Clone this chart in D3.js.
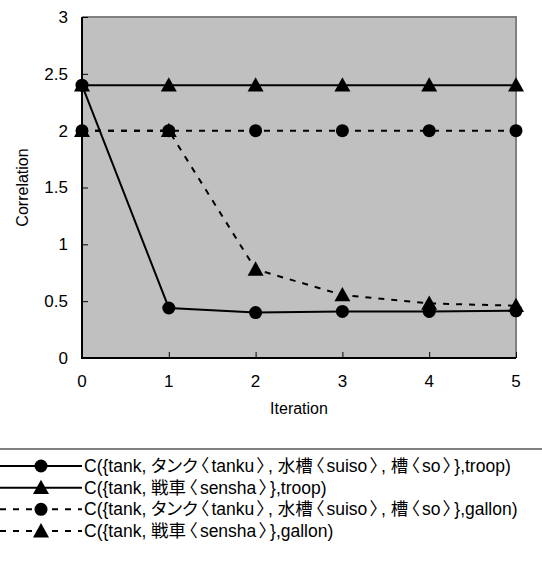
<!DOCTYPE html>
<html><head><meta charset="utf-8">
<script src="https://cdn.jsdelivr.net/npm/d3@7"></script>
<style>body{margin:0;background:#fff;} svg{display:block;} text{font-feature-settings:"palt";}</style>
</head><body>
<svg id="c" width="542" height="572"></svg>
<script>
const iterations = [0, 1, 2, 3, 4, 5];
const yTicks = [0, 0.5, 1, 1.5, 2, 2.5, 3];
const tankuTroop = [2.4, 0.44, 0.40, 0.41, 0.41, 0.415];
const senshaTroop = [2.4, 2.4, 2.4, 2.4, 2.4, 2.4];
const tankuGallon = [2.0, 2.0, 2.0, 2.0, 2.0, 2.0];
const senshaGallon = [2.0, 2.0, 0.78, 0.555, 0.48, 0.46];
const seriesNames = [
  "C({tank, タンク〈tanku〉, 水槽〈suiso〉, 槽〈so〉},troop)",
  "C({tank, 戦車〈sensha〉},troop)",
  "C({tank, タンク〈tanku〉, 水槽〈suiso〉, 槽〈so〉},gallon)",
  "C({tank, 戦車〈sensha〉},gallon)"
];
const seriesValues = [tankuTroop, senshaTroop, tankuGallon, senshaGallon];
const seriesMarker = ["circle", "triangle", "circle", "triangle"];
const seriesDashed = [false, false, true, true];

const font = "'Liberation Sans', 'Noto Sans CJK JP', sans-serif";
const svg = d3.select("#c");
const L = 82, R = 516, T = 17, B = 358;
const x = d3.scaleLinear().domain([0, 5]).range([L, R]);
const y = d3.scaleLinear().domain([0, 3]).range([B, T]);

svg.append("rect").attr("x", L).attr("y", T).attr("width", R - L).attr("height", B - T).attr("fill", "#c0c0c0");
svg.append("path").attr("d", `M${L},${T}H${R}V${B}`).attr("fill", "none").attr("stroke", "#808080").attr("stroke-width", 2);

const yAxis = d3.axisRight(y).tickValues(yTicks).tickSize(6).tickFormat("");
const gy = svg.append("g").attr("transform", `translate(${L},0)`).call(yAxis);
gy.select(".domain").remove();
gy.selectAll(".tick line").attr("stroke", "#000").attr("stroke-width", 1);
const xAxis = d3.axisTop(x).tickValues(iterations).tickSize(6).tickFormat("");
const gx = svg.append("g").attr("transform", `translate(0,${B})`).call(xAxis);
gx.select(".domain").remove();
gx.selectAll(".tick line").attr("stroke", "#000").attr("stroke-width", 1);

svg.append("path").attr("d", `M${L},${T}V${B}H${R}`).attr("fill", "none").attr("stroke", "#000").attr("stroke-width", 2);

svg.append("g").selectAll("text").data(yTicks).join("text")
  .attr("x", L - 14).attr("y", d => y(d)).attr("dy", "0.35em")
  .attr("text-anchor", "end").attr("font-family", font).attr("font-size", 17)
  .text(d => d);
svg.append("g").selectAll("text").data(iterations).join("text")
  .attr("x", d => x(d)).attr("y", B + 29)
  .attr("text-anchor", "middle").attr("font-family", font).attr("font-size", 17)
  .text(d => d);
svg.append("text").attr("x", (L + R) / 2).attr("y", B + 56).attr("text-anchor", "middle")
  .attr("font-family", font).attr("font-size", 16).text("Iteration");
svg.append("text").attr("transform", `translate(28,${(T + B) / 2}) rotate(-90)`).attr("text-anchor", "middle")
  .attr("font-family", font).attr("font-size", 16).text("Correlation");

function marker(g, type, cx, cy) {
  if (type === "circle") {
    g.append("circle").attr("cx", cx).attr("cy", cy).attr("r", 6.5).attr("fill", "#000");
  } else {
    const s = 8;
    g.append("path").attr("d", `M${cx},${cy - s}L${cx + s},${cy + s * 0.8}L${cx - s},${cy + s * 0.8}Z`).attr("fill", "#000");
  }
}

const line = d3.line().x((d, i) => x(iterations[i])).y(d => y(d));
const order = [3, 2, 1, 0];
order.forEach(k => {
  const g = svg.append("g");
  g.append("path").attr("d", line(seriesValues[k])).attr("fill", "none").attr("stroke", "#000")
    .attr("stroke-width", 2).attr("stroke-dasharray", seriesDashed[k] ? "6,7" : null);
  seriesValues[k].forEach((v, i) => marker(g, seriesMarker[k], x(iterations[i]), y(v)));
});

svg.append("line").attr("x1", 0).attr("x2", 542).attr("y1", 449).attr("y2", 449).attr("stroke", "#808080").attr("stroke-width", 2);
const rowY = d3.scaleLinear().domain([0, 3]).range([466, 531]);
seriesNames.forEach((name, k) => {
  const g = svg.append("g");
  const cy = rowY(k);
  g.append("line").attr("x1", 0).attr("x2", 82).attr("y1", cy).attr("y2", cy).attr("stroke", "#000")
    .attr("stroke-width", 2).attr("stroke-dasharray", seriesDashed[k] ? "6,7" : null);
  marker(g, seriesMarker[k], 41, cy);
  const t = g.append("text").attr("x", 84).attr("y", cy).attr("dy", "0.35em").attr("font-family", font)
    .attr("font-size", 17.5);
  const parts = name.split(/([〈〉])/).filter(p => p.length);
  let prevBracket = false;
  parts.forEach(p => {
    const isBr = p === "〈" || p === "〉";
    t.append("tspan").attr("dx", (isBr || prevBracket) ? 2.5 : 0).text(p);
    prevBracket = isBr;
  });
});
</script>
</body></html>
